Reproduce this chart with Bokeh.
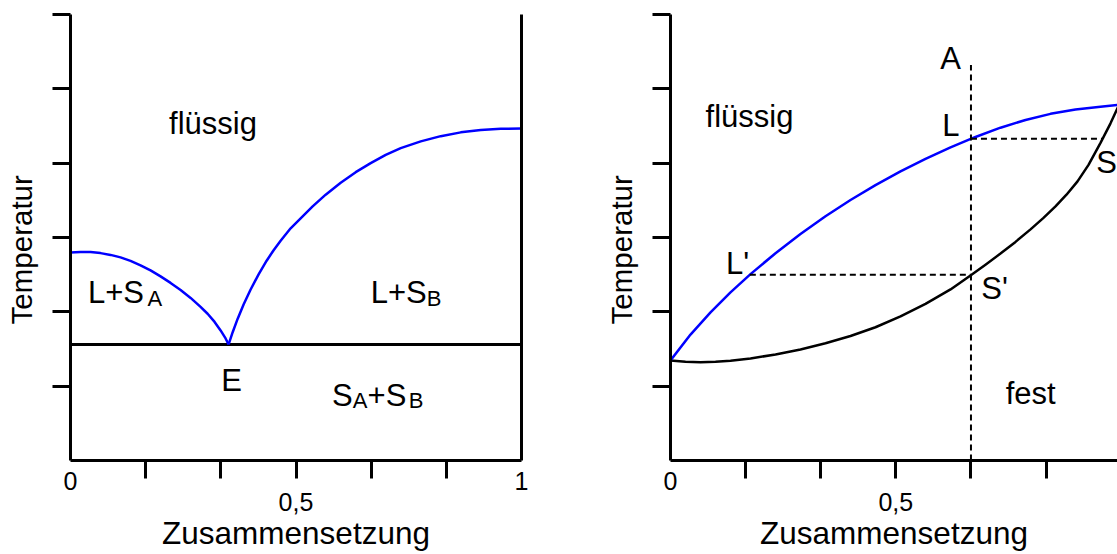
from bokeh.plotting import figure
from bokeh.layouts import row
from bokeh.models import FixedTicker, LinearAxis, Range1d, CustomLabelingPolicy
from bokeh.core.properties import value
from bokeh.embed import file_html
from bokeh.resources import INLINE

FONT = "Liberation Sans"

# ---- shared axis layout (composition 0..1, temperature in arbitrary units 0..6)
x_ticks = [1 / 6, 2 / 6, 3 / 6, 4 / 6, 5 / 6]
x_end_ticks = [0, 1]
x_end_text = {0: "0", 1: "1"}
x_mid_ticks = [0.5]
x_mid_text = {0.5: "0,5"}
y_ticks = [1, 2, 3, 4, 5, 6]

# ---- eutectic system: two liquidus branches meeting at E
liq_a_x = [0.0, 0.0222, 0.0444, 0.0666, 0.0888, 0.1109, 0.1331, 0.1553, 0.1775, 0.1997,
           0.2219, 0.2441, 0.2663, 0.2884, 0.3040, 0.3195, 0.3328, 0.3439, 0.3506]
liq_a_t = [2.7995, 2.8062, 2.8048, 2.7900, 2.7658, 2.7322, 2.6851, 2.6245, 2.5572, 2.4764,
           2.3890, 2.2948, 2.1871, 2.0659, 1.9744, 1.8641, 1.7497, 1.6420, 1.5612]
liq_b_x = [0.3506, 0.3594, 0.3705, 0.3838, 0.3994, 0.4171, 0.4349, 0.4504, 0.4659, 0.4881,
           0.5103, 0.5369, 0.5658, 0.5991, 0.6324, 0.6656, 0.6989, 0.7322, 0.7766, 0.8209,
           0.8653, 0.9097, 0.9541, 1.0]
liq_b_t = [1.5612, 1.7227, 1.9044, 2.0983, 2.3001, 2.5047, 2.6878, 2.8291, 2.9570, 3.1239,
           3.2571, 3.4186, 3.5760, 3.7376, 3.8789, 4.0000, 4.1117, 4.2019, 4.2934, 4.3634,
           4.4145, 4.4468, 4.4617, 4.4657]
eutectic_t = 1.5612

# ---- complete miscibility: liquidus / solidus lens
lens_liq_x = [0.0, 0.0444, 0.0888, 0.1331, 0.1775, 0.2330, 0.2884, 0.3439, 0.3994, 0.4548,
              0.5103, 0.5658, 0.6213, 0.6767, 0.7322, 0.7877, 0.8431, 0.8986, 0.9541, 0.9951]
lens_liq_t = [1.3459, 1.6945, 1.9933, 2.2625, 2.5074, 2.7887, 3.0471, 3.2867, 3.5047, 3.7052,
              3.8883, 4.0565, 4.2113, 4.3526, 4.4771, 4.5814, 4.6635, 4.7227, 4.7591, 4.7846]
lens_sol_x = [0.0, 0.0333, 0.0666, 0.0999, 0.1331, 0.1775, 0.2330, 0.2884, 0.3439, 0.3994,
              0.4548, 0.5103, 0.5658, 0.6213, 0.6656, 0.6989, 0.7322, 0.7655, 0.7988, 0.8276,
              0.8542, 0.8786, 0.9031, 0.9275, 0.9541, 0.9763, 0.9951]
lens_sol_t = [1.3459, 1.3284, 1.3230, 1.3284, 1.3432, 1.3728, 1.4266, 1.4939, 1.5774, 1.6743,
              1.7927, 1.9381, 2.1063, 2.3015, 2.4899, 2.6339, 2.7833, 2.9408, 3.1090, 3.2638,
              3.4186, 3.5760, 3.7551, 3.9771, 4.2732, 4.5357, 4.7846]

# cooling path of composition A and the two tie lines L-S and L'-S'
comp_a = 4 / 6
comp_a_start_t = 5.32
tie_t = [4.33, 2.50]
tie_liq_x = [comp_a, 0.176]
tie_sol_x = [0.9590, comp_a]

BLUE = "#0000ff"
TEXT_SHIFT = -10  # screen px
NBSP = "\u00a0"

# axes that only carry tick marks draw none of their labels
NO_LABELS = """
for (const i of indices) indices.unset(i)
return indices
"""


def base_axis(ax):
    ax.axis_line_width = 3
    ax.axis_line_color = "black"
    ax.major_tick_line_width = 3
    ax.major_tick_line_color = "black"
    ax.major_tick_in = 0
    ax.minor_tick_out = 0
    ax.minor_tick_in = 0
    ax.major_label_text_font = FONT
    ax.major_label_text_color = "black"
    ax.axis_label_text_font = FONT
    ax.axis_label_text_font_style = "normal"
    ax.axis_label_text_color = "black"
    return ax


def style_panel(p):
    p.outline_line_color = None
    p.background_fill_color = "white"
    p.border_fill_color = "white"

    # tick marks along the composition axis
    ticks = base_axis(LinearAxis(ticker=FixedTicker(ticks=x_ticks),
                                 major_label_policy=CustomLabelingPolicy(code=NO_LABELS)))
    ticks.major_tick_out = 18
    ticks.major_label_text_font_size = "0px"
    ticks.major_label_standoff = 0
    p.add_layout(ticks, "below")

    # labels of the pure components
    ends = base_axis(LinearAxis(ticker=FixedTicker(ticks=x_end_ticks),
                                major_label_overrides=x_end_text))
    ends.axis_line_color = None
    ends.major_tick_out = 0
    ends.major_label_text_font_size = "25px"
    ends.major_label_standoff = -7
    p.add_layout(ends, "below")

    # mid label and axis title
    mid = base_axis(LinearAxis(ticker=FixedTicker(ticks=x_mid_ticks),
                               major_label_overrides=x_mid_text,
                               axis_label="Zusammensetzung"))
    mid.axis_line_color = None
    mid.major_tick_out = 0
    mid.major_label_text_font_size = "25px"
    mid.major_label_standoff = 0
    mid.axis_label_text_font_size = "31.5px"
    mid.axis_label_standoff = 1
    p.add_layout(mid, "below")

    yaxis = base_axis(LinearAxis(ticker=FixedTicker(ticks=y_ticks),
                                 major_label_overrides={t: "" for t in y_ticks},
                                 major_label_policy=CustomLabelingPolicy(code=NO_LABELS),
                                 axis_label="Temperatur" + NBSP * 3))
    yaxis.major_tick_out = 18
    yaxis.major_label_text_font_size = "24px"
    yaxis.major_label_standoff = 5
    yaxis.axis_label_text_font_size = "29.5px"
    yaxis.axis_label_standoff = 15
    p.add_layout(yaxis, "left")


def words(p, xs, ys, texts, size, align="center"):
    p.text(x=xs, y=ys, text=texts, text_font=value(FONT), text_font_size=size,
           text_align=align, text_baseline="alphabetic", text_color="black",
           y_offset=TEXT_SHIFT)


# ================= left panel: eutectic =================
left = figure(width=560, height=554, x_range=Range1d(0, 1), y_range=Range1d(0, 6),
              x_axis_type=None, y_axis_type=None, output_backend="svg",
              toolbar_location=None, min_border_left=70, min_border_right=39,
              min_border_top=14, min_border_bottom=94)
style_panel(left)

# closing line at pure B
edge = LinearAxis(ticker=FixedTicker(ticks=[]), major_tick_out=0, major_tick_in=0,
                  minor_tick_out=0, major_label_text_font_size="0px",
                  axis_line_width=3, axis_line_color="black")
left.add_layout(edge, "right")

left.line([0, 1], [eutectic_t, eutectic_t], line_color="black", line_width=3)
left.line(liq_a_x, liq_a_t, line_color=BLUE, line_width=2.5, line_join="round")
left.line(liq_b_x, liq_b_t, line_color=BLUE, line_width=2.5, line_join="round")

words(left, [0.316, 0.357], [4.40, 0.942], ["flüssig", "E"], "31px")
# phase regions with subscripts
words(left, [0.0386, 0.6656, 0.580, 0.6588], [2.127, 2.127, 0.740, 0.740],
      ["L+S", "L+S", "S", "+S"], "31px", align="left")
words(left, [0.1709, 0.790, 0.6257, 0.750], [2.046, 2.046, 0.673, 0.673],
      ["A", "B", "A", "B"], "22px", align="left")

# ================= right panel: lens diagram =================
right = figure(width=557, height=554, x_range=Range1d(0, 447 / 450.7), y_range=Range1d(0, 6),
               x_axis_type=None, y_axis_type=None, output_backend="svg",
               toolbar_location=None, min_border_left=110, min_border_right=0,
               min_border_top=14, min_border_bottom=94)
style_panel(right)

right.line(lens_sol_x, lens_sol_t, line_color="black", line_width=2.5, line_join="round")
right.line(lens_liq_x, lens_liq_t, line_color=BLUE, line_width=2.5, line_join="round")

right.line([comp_a, comp_a], [0, comp_a_start_t], line_color="black", line_width=2,
           line_dash="6 4")
for t, xl, xs in zip(tie_t, tie_liq_x, tie_sol_x):
    right.line([xl, xs], [t, t], line_color="black", line_width=2, line_dash="6 4")

words(right, [0.1753, 0.6213, 0.622, 0.9674, 0.149, 0.719, 0.799],
      [4.489, 5.276, 4.374, 3.876, 2.517, 2.180, 0.767],
      ["flüssig", "A", "L", "S", "L'", "S'", "fest"], "31px")

layout = row(left, right)
open("out.html", "w").write(file_html(layout, INLINE))
